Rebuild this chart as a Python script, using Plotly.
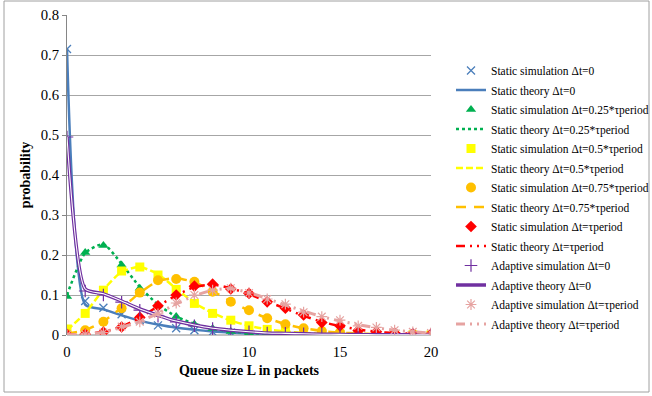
import plotly.graph_objects as go

L = list(range(21))

static_sim_0 = [0.715, 0.085, 0.068, 0.052, 0.037, 0.024, 0.017, 0.012, 0.008, 0.006, 0.004, 0.003, 0.002, 0.0015, 0.001, 0.001, 0.0005, 0.0005, 0.0003, 0.0002, 0.0001]
static_th_0 = [0.715, 0.076, 0.064, 0.049, 0.036, 0.026, 0.018, 0.013, 0.009, 0.006, 0.004, 0.003, 0.002, 0.0015, 0.001, 0.001, 0.0005, 0.0005, 0.0003, 0.0002, 0.0001]
static_sim_025 = [0.096, 0.206, 0.224, 0.175, 0.117, 0.075, 0.046, 0.027, 0.016, 0.009, 0.005, 0.003, 0.002, 0.001, 0.0008, 0.0005, 0.0003, 0.0002, 0.0001, 0.0001, 0.0]
static_th_025 = [0.1, 0.205, 0.227, 0.178, 0.12, 0.076, 0.046, 0.028, 0.016, 0.009, 0.005, 0.003, 0.002, 0.001, 0.0008, 0.0005, 0.0003, 0.0002, 0.0001, 0.0001, 0.0]
static_sim_05 = [0.015, 0.054, 0.112, 0.16, 0.17, 0.15, 0.114, 0.079, 0.054, 0.037, 0.023, 0.014, 0.009, 0.005, 0.003, 0.002, 0.001, 0.0008, 0.0005, 0.0003, 0.0002]
static_th_05 = [0.012, 0.055, 0.113, 0.158, 0.17, 0.152, 0.116, 0.08, 0.055, 0.036, 0.023, 0.014, 0.009, 0.005, 0.003, 0.002, 0.001, 0.0008, 0.0005, 0.0003, 0.0002]
static_sim_075 = [0.003, 0.012, 0.033, 0.067, 0.106, 0.137, 0.14, 0.133, 0.108, 0.083, 0.062, 0.042, 0.027, 0.017, 0.01, 0.006, 0.004, 0.002, 0.0015, 0.001, 0.0005]
static_th_075 = [0.003, 0.012, 0.034, 0.068, 0.105, 0.135, 0.142, 0.132, 0.11, 0.084, 0.061, 0.042, 0.027, 0.017, 0.01, 0.006, 0.004, 0.002, 0.0015, 0.001, 0.0005]
static_sim_1 = [0.001, 0.002, 0.007, 0.02, 0.044, 0.073, 0.1, 0.122, 0.127, 0.115, 0.104, 0.083, 0.067, 0.05, 0.031, 0.023, 0.011, 0.008, 0.005, 0.003, 0.002]
static_th_1 = [0.001, 0.003, 0.008, 0.021, 0.043, 0.072, 0.099, 0.12, 0.126, 0.117, 0.102, 0.084, 0.066, 0.048, 0.033, 0.022, 0.014, 0.008, 0.005, 0.003, 0.002]
adapt_sim_0 = [0.495, 0.11, 0.1, 0.082, 0.062, 0.047, 0.033, 0.023, 0.016, 0.011, 0.008, 0.005, 0.004, 0.003, 0.002, 0.0015, 0.001, 0.0008, 0.0005, 0.0003, 0.0002]
adapt_th_0 = [0.495, 0.115, 0.103, 0.085, 0.065, 0.049, 0.035, 0.025, 0.017, 0.012, 0.008, 0.005, 0.004, 0.003, 0.002, 0.0015, 0.001, 0.0008, 0.0005, 0.0003, 0.0002]
adapt_sim_1 = [0.0005, 0.002, 0.006, 0.021, 0.033, 0.053, 0.08, 0.1, 0.112, 0.117, 0.105, 0.09, 0.077, 0.057, 0.046, 0.037, 0.023, 0.019, 0.012, 0.008, 0.005]
adapt_th_1 = [0.0005, 0.002, 0.007, 0.019, 0.034, 0.054, 0.078, 0.098, 0.112, 0.116, 0.106, 0.091, 0.075, 0.06, 0.046, 0.035, 0.026, 0.018, 0.012, 0.008, 0.005]

x_ticks = [0, 5, 10, 15, 20]
y_ticks = [0, 0.1, 0.2, 0.3, 0.4, 0.5, 0.6, 0.7, 0.8]
y_tick_labels = ["0", "0.1", "0.2", "0.3", "0.4", "0.5", "0.6", "0.7", "0.8"]

BLUE = "#4A7EBB"
GREEN = "#00B050"
YELLOW = "#FFFF00"
ORANGE = "#FFC000"
RED = "#FF0000"
PURPLE = "#7030A0"
PINK = "#E6A3A1"

SERIF = "Liberation Serif"
fig = go.Figure()

def sim(name, y, color, symbol, size, lw=0):
    fig.add_trace(go.Scatter(x=L, y=y, mode="markers", name=name, legendgroup=name,
                             marker=dict(color=color, symbol=symbol, size=size,
                                         line=dict(color=color, width=lw))))

def th(name, y, color, width, dash, show=True, group=None):
    fig.add_trace(go.Scatter(x=L, y=y, mode="lines", name=name, showlegend=show,
                             legendgroup=group or name,
                             line=dict(color=color, width=width, dash=dash,
                                       shape="spline", smoothing=0.6)))

sim("Static simulation Δt=0", static_sim_0, BLUE, "x-thin-open", 8, 1.3)
th("Static theory Δt=0", static_th_0, BLUE, 2.5, "solid")
sim("Static simulation Δt=0.25*τperiod", static_sim_025, GREEN, "triangle-up", 9)
th("Static theory Δt=0.25*τperiod", static_th_025, GREEN, 2.5, "dot")
sim("Static simulation Δt=0.5*τperiod", static_sim_05, YELLOW, "square", 9)
th("Static theory Δt=0.5*τperiod", static_th_05, YELLOW, 2.5, "7px,3px")
sim("Static simulation Δt=0.75*τperiod", static_sim_075, ORANGE, "circle", 10)
th("Static theory Δt=0.75*τperiod", static_th_075, ORANGE, 2.5, "10px,8px")
sim("Static simulation Δt=τperiod", static_sim_1, RED, "diamond", 9)
th("Static theory Δt=τperiod", static_th_1, RED, 2.5, "9px,5px,2px,5px,2px,5px")
sim("Adaptive simulation Δt=0", adapt_sim_0, PURPLE, "cross-thin-open", 9, 1.2)
th("Adaptive theory Δt=0", adapt_th_0, PURPLE, 3.5, "solid")
th("Adaptive theory Δt=0 inner", adapt_th_0, "white", 1.1, "solid", show=False,
   group="Adaptive theory Δt=0")
sim("Adaptive simulation Δt=τperiod", adapt_sim_1, PINK, "asterisk-open", 9, 1.2)
th("Adaptive theory Δt=τperiod", adapt_th_1, PINK, 3, "9px,5px,2px,5px,2px,5px")

# plot area: x 67..431, y 15..335
fig.update_layout(
    width=652, height=396,
    margin=dict(l=67, r=221, t=15, b=61, autoexpand=False),
    paper_bgcolor="white", plot_bgcolor="white",
    font=dict(family=SERIF, size=13, color="black"),
    showlegend=True,
    legend=dict(x=(451 - 67) / 364, y=(335 - 56) / 320, xanchor="left", yanchor="top",
                font=dict(family=SERIF, size=11.5, color="black"),
                bgcolor="rgba(0,0,0,0)", itemwidth=30, tracegroupgap=0.5),
    xaxis=dict(range=[0, 20], tickvals=x_ticks, showgrid=False, zeroline=False,
               showline=False, ticks="", ticklabelstandoff=6,
               tickfont=dict(family=SERIF, size=14.7),
               title=dict(text="<b>Queue size L in packets</b>", standoff=6,
                          font=dict(family=SERIF, size=14))),
    yaxis=dict(range=[0, 0.8], tickvals=y_ticks, ticktext=y_tick_labels,
               showgrid=True, gridcolor="#A6A6A6", gridwidth=1, zeroline=False,
               showline=True, linecolor="#868686", linewidth=1,
               ticks="outside", ticklen=4, tickcolor="#868686",
               tickfont=dict(family=SERIF, size=14.7),
               title=dict(text="<b>probability</b>", standoff=6,
                          font=dict(family=SERIF, size=14))),
)
# x-axis line at y=0
fig.add_shape(type="line", xref="paper", yref="paper", x0=0, x1=1, y0=0, y1=0,
              line=dict(color="#868686", width=1), layer="below")
# chart outer border
fig.add_shape(type="rect", xref="paper", yref="paper",
              x0=(4 - 67) / 364, x1=(649 - 67) / 364, y0=(335 - 392) / 320, y1=(335 - 1) / 320,
              line=dict(color="#A0A0A0", width=1))

fig.write_html("out.html")
